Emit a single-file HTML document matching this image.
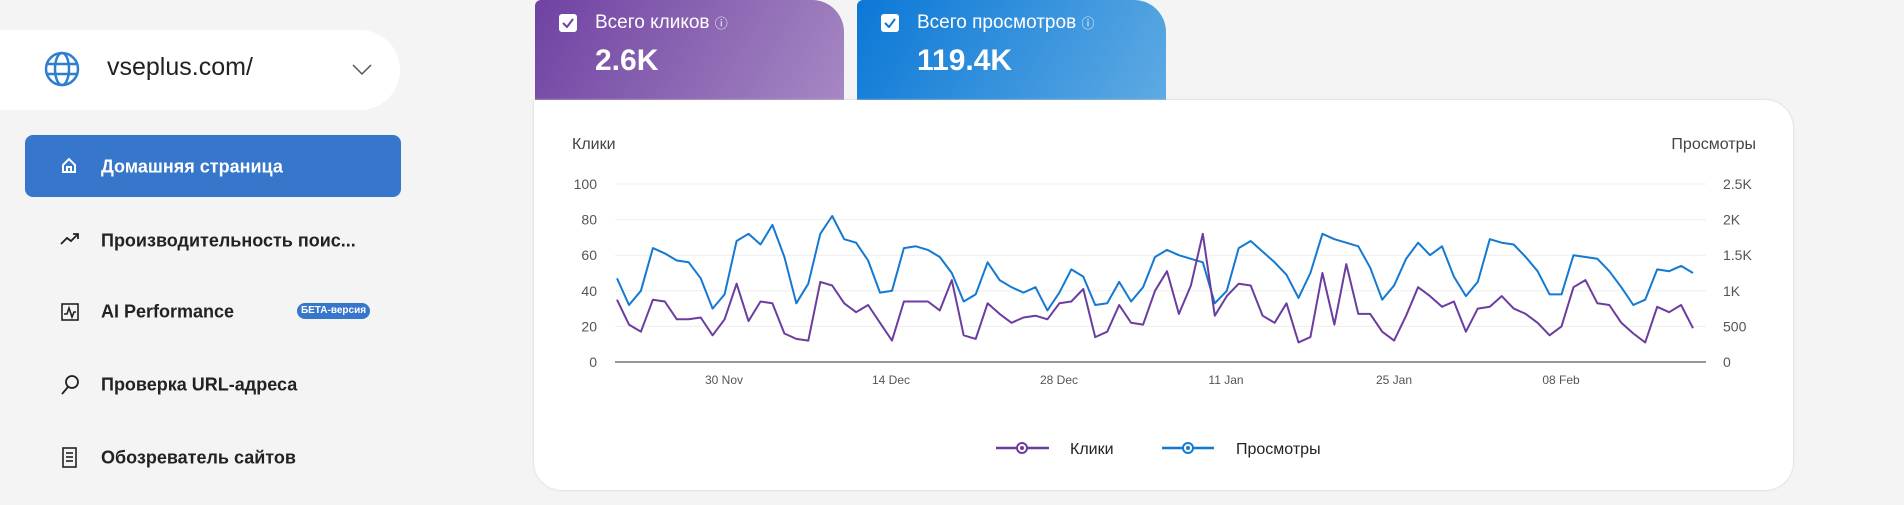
<!DOCTYPE html>
<html><head><meta charset="utf-8"><style>
body{margin:0;width:1904px;height:505px;background:#f4f4f4;font-family:"Liberation Sans",sans-serif;position:relative;overflow:hidden;color:#222}
.a{position:absolute}
.dd{left:0;top:30px;width:400px;height:80px;background:#fff;border-radius:0 40px 40px 0}
.home{left:25px;top:135px;width:376px;height:62px;background:#3677cc;border-radius:8px}
.mi{position:absolute;left:101px;font-size:18px;font-weight:bold;color:#222;transform:translateY(-50%)}
.card{top:0;height:100px;border-radius:6px 32px 0 0}
.cb{position:absolute;left:24px;top:14px;width:18px;height:18px;background:#fff;border-radius:3px}
.ct{position:absolute;left:60px;top:12px;font-size:19px;color:#fff}
.cv{position:absolute;left:60px;top:44px;font-size:30px;font-weight:bold;color:#fff}
.panel{left:534px;top:100px;width:1259px;height:390px;background:#fff;border-radius:0 28px 28px 28px;box-shadow:0 0 2px #ccc}
</style></head><body>
<div class="a dd"></div>
<svg class="a" style="left:44px;top:51px" width="36" height="36" viewBox="0 0 36 36" fill="none" stroke="#2f7fd0" stroke-width="2.5"><circle cx="18" cy="18" r="16"/><ellipse cx="18" cy="18" rx="7" ry="16"/><line x1="2" y1="13" x2="34" y2="13"/><line x1="2" y1="23" x2="34" y2="23"/></svg>
<div class="a" style="left:107px;top:53px;font-size:25px;color:#222">vseplus.com/</div>
<svg class="a" style="left:352px;top:64px" width="20" height="12"><polyline points="1,1 10,10 19,1" fill="none" stroke="#555" stroke-width="1.5"/></svg>
<div class="a home"></div>
<svg class="a" style="left:61px;top:157px" width="16" height="16" fill="none" stroke="#fff" stroke-width="2"><path d="M2 8 L8 2 L14 8 V15 H2 Z M6 15 V10 H10 V15"/></svg>
<div class="mi" style="top:167px;color:#fff">Домашняя страница</div>
<svg class="a" style="left:60px;top:232px" width="20" height="14" fill="none" stroke="#222" stroke-width="1.8"><polyline points="1,12 7,6 11,9 18,2"/><polyline points="13,2 18,2 18,7"/></svg>
<div class="mi" style="top:241px">Производительность поис...</div>
<svg class="a" style="left:61px;top:303px" width="18" height="18" fill="none" stroke="#222" stroke-width="1.6"><rect x="1" y="1" width="16" height="16"/><polyline points="3,11 6,11 8,5 11,14 13,9 15,9"/></svg>
<div class="mi" style="top:312px">AI Performance</div>
<div class="a" style="left:297px;top:303px;width:73px;height:16px;border-radius:8px;background:#3677cc;color:#fff;font-size:10px;font-weight:bold;text-align:center;line-height:16px">БЕТА-версия</div>
<svg class="a" style="left:60px;top:374px" width="20" height="22" fill="none" stroke="#222" stroke-width="1.8"><circle cx="12" cy="8" r="6"/><line x1="8" y1="13" x2="2" y2="20"/></svg>
<div class="mi" style="top:385px">Проверка URL-адреса</div>
<svg class="a" style="left:62px;top:447px" width="16" height="22" fill="none" stroke="#222" stroke-width="1.6"><rect x="1" y="1" width="13" height="19"/><line x1="4" y1="6" x2="11" y2="6"/><line x1="4" y1="10" x2="11" y2="10"/><line x1="4" y1="14" x2="11" y2="14"/></svg>
<div class="mi" style="top:458px">Обозреватель сайтов</div>

<div class="a card" style="left:535px;width:309px;background:linear-gradient(120deg,#6f42a2,#a688c3)"><div class="cb"></div><svg class="a" style="left:27px;top:18px" width="12" height="10"><polyline points="1,5 5,9 11,1" fill="none" stroke="#6f42a2" stroke-width="2"/></svg><div class="ct">Всего кликов <span style="font-size:13px">ⓘ</span></div><div class="cv">2.6K</div></div>
<div class="a card" style="left:857px;width:309px;background:linear-gradient(120deg,#0b78d6,#5eaae3)"><div class="cb"></div><svg class="a" style="left:27px;top:18px" width="12" height="10"><polyline points="1,5 5,9 11,1" fill="none" stroke="#0b78d6" stroke-width="2"/></svg><div class="ct">Всего просмотров <span style="font-size:13px">ⓘ</span></div><div class="cv">119.4K</div></div>

<div class="a panel"></div>
<svg class="a" style="left:0;top:0" width="1904" height="505" id="ch" font-family="Liberation Sans, sans-serif"></svg>
<script>
var c=[35,21,17,35,34,24,24,25,15,24,44,23,34,33,16,13,12,45,43,33,28,32,22,12,34,34,34,29,46,15,13,33,27,22,25,26,24,33,34,41,14,17,32,22,21,40,51,27,43,72,26,37,44,43,26,22,33,11,14,50,21,55,27,27,17,12,26,42,37,31,34,17,30,31,37,30,27,22,15,20,42,46,33,32,22,16,11,31,28,32,19];
var v=[47,32,40,64,61,57,56,47,30,38,68,72,66,77,59,33,44,72,82,69,67,57,39,40,64,65,63,59,50,34,38,56,46,42,39,42,29,39,52,48,32,33,45,34,42,59,63,60,58,56,33,40,64,68,62,56,49,36,50,72,69,67,65,53,35,43,58,67,60,65,48,37,45,69,67,66,59,51,38,38,60,59,58,51,42,32,35,52,51,54,50];
var s='';
s+='<text x="572" y="149" font-size="16" fill="#444">Клики</text><text x="1756" y="149" font-size="16" fill="#444" text-anchor="end">Просмотры</text>';
var L=['0','20','40','60','80','100'],R=['0','500','1K','1.5K','2K','2.5K'];
for(var k=0;k<6;k++){var y=362-k*35.6;
if(k>0)s+='<line x1="615" x2="1706" y1="'+y+'" y2="'+y+'" stroke="#eee" stroke-width="1"/>';
s+='<text x="597" y="'+(y+5)+'" font-size="14" fill="#555" text-anchor="end">'+L[k]+'</text>';
s+='<text x="1723" y="'+(y+5)+'" font-size="14" fill="#555">'+R[k]+'</text>';}
s+='<line x1="615" x2="1706" y1="362" y2="362" stroke="#999" stroke-width="2"/>';
var X=[[724,'30 Nov'],[891,'14 Dec'],[1059,'28 Dec'],[1226,'11 Jan'],[1394,'25 Jan'],[1561,'08 Feb']];
X.forEach(function(t){s+='<text x="'+t[0]+'" y="384" font-size="12" fill="#555" text-anchor="middle">'+t[1]+'</text>';});
function pl(a,col){var p=a.map(function(q,i){return (617+i*11.956).toFixed(1)+','+(362-q*1.78).toFixed(1)}).join(' ');return '<polyline points="'+p+'" fill="none" stroke="'+col+'" stroke-width="2" stroke-linejoin="round"/>';}
s+=pl(v,'#1479d2')+pl(c,'#6a3d9f');
s+='<line x1="996" x2="1049" y1="448" y2="448" stroke="#6a3d9f" stroke-width="2.5"/><circle cx="1022" cy="448" r="5" fill="#fff" stroke="#6a3d9f" stroke-width="2"/><circle cx="1022" cy="448" r="2" fill="#6a3d9f"/><text x="1070" y="454" font-size="16" fill="#222">Клики</text>';
s+='<line x1="1162" x2="1214" y1="448" y2="448" stroke="#1479d2" stroke-width="2.5"/><circle cx="1188" cy="448" r="5" fill="#fff" stroke="#1479d2" stroke-width="2"/><circle cx="1188" cy="448" r="2" fill="#1479d2"/><text x="1236" y="454" font-size="16" fill="#222">Просмотры</text>';
document.getElementById('ch').innerHTML=s;
</script>
</body></html>
